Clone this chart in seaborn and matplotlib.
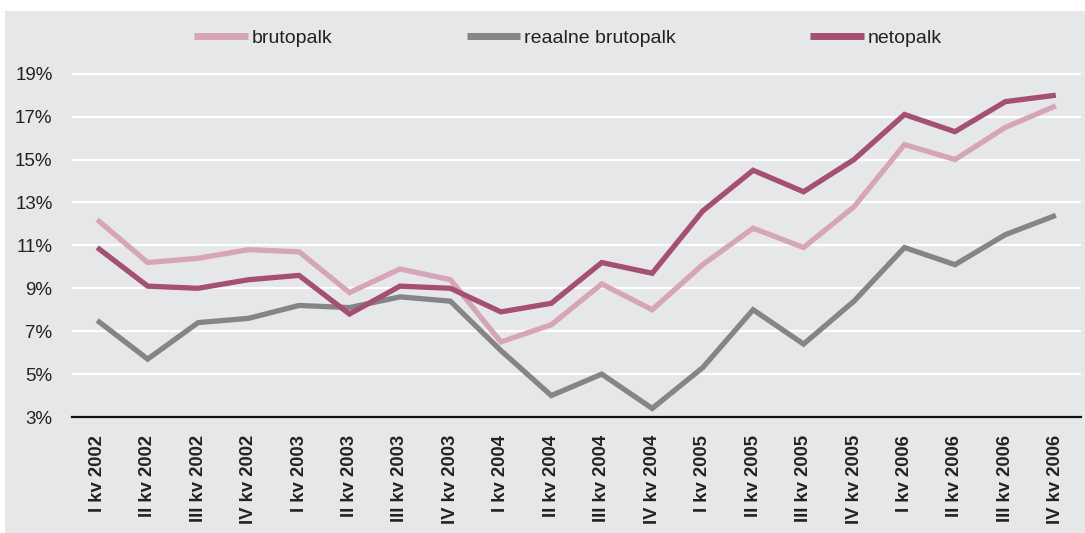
import pandas as pd
import numpy as np
import seaborn as sns
import matplotlib.pyplot as plt
from matplotlib.patches import Rectangle

# Quarter labels
quarters = ['I kv 2002', 'II kv 2002', 'III kv 2002', 'IV kv 2002',
            'I kv 2003', 'II kv 2003', 'III kv 2003', 'IV kv 2003',
            'I kv 2004', 'II kv 2004', 'III kv 2004', 'IV kv 2004',
            'I kv 2005', 'II kv 2005', 'III kv 2005', 'IV kv 2005',
            'I kv 2006', 'II kv 2006', 'III kv 2006', 'IV kv 2006']

# Series values (%)
brutopalk = [12.2, 10.2, 10.4, 10.8, 10.7, 8.8, 9.9, 9.4, 6.5, 7.3,
             9.2, 8.0, 10.1, 11.8, 10.9, 12.8, 15.7, 15.0, 16.5, 17.5]
reaalne = [7.5, 5.7, 7.4, 7.6, 8.2, 8.1, 8.6, 8.4, 6.1, 4.0,
           5.0, 3.4, 5.3, 8.0, 6.4, 8.4, 10.9, 10.1, 11.5, 12.4]
netopalk = [10.9, 9.1, 9.0, 9.4, 9.6, 7.8, 9.1, 9.0, 7.9, 8.3,
            10.2, 9.7, 12.6, 14.5, 13.5, 15.0, 17.1, 16.3, 17.7, 18.0]

series_names = ['brutopalk', 'reaalne brutopalk', 'netopalk']
colors = ['#d6a6b8', '#858587', '#a54f72']

df = pd.DataFrame({'kvartal': quarters, 'brutopalk': brutopalk,
                   'reaalne brutopalk': reaalne, 'netopalk': netopalk})
df['x'] = range(len(df))
long_df = df.melt(id_vars=['kvartal', 'x'], value_vars=series_names,
                  var_name='seeria', value_name='vaartus')

sns.set_style('white')
plt.rcParams['font.family'] = ['Liberation Sans', 'DejaVu Sans']
bg = '#e6e7e9'

fig = plt.figure(figsize=(10.85, 5.33), dpi=100)
fig.patch.set_facecolor('white')
fig.add_artist(Rectangle((5 / 1085, 0), 1, (533 - 11) / 533,
                         transform=fig.transFigure, facecolor=bg,
                         edgecolor='none', zorder=-10))
ax = fig.add_axes([72 / 1085, 0.2176, 0.930, 0.6642])
ax.set_facecolor(bg)

sns.lineplot(data=long_df, x='x', y='vaartus', hue='seeria',
             hue_order=series_names, palette=colors, linewidth=3.8,
             solid_capstyle='butt', solid_joinstyle='miter',
             ax=ax, legend=False)

ax.set_xlim(-0.5, 19.5)
ax.set_ylim(3, 19.5)
ax.set_yticks(range(3, 20, 2))
ax.set_yticklabels([f'{v}%' for v in range(3, 20, 2)], fontsize=13.5,
                   color='#222222')
ax.set_xticks(df['x'])
ax.set_xticklabels(quarters, rotation=90, fontsize=13.3, fontweight='bold',
                   color='#222222')
ax.tick_params(axis='y', length=0, pad=14)
ax.tick_params(axis='x', length=0, pad=13)
ax.grid(axis='y', color='white', linewidth=1.6)
ax.set_axisbelow(True)
for side in ['top', 'right', 'left']:
    ax.spines[side].set_visible(False)
ax.spines['bottom'].set_color('#111111')
ax.spines['bottom'].set_linewidth(1.6)
ax.set_xlabel('')
ax.set_ylabel('')

# Legend
handles = [plt.Line2D([], [], color=c, linewidth=5, solid_capstyle='butt')
           for c in colors]
leg = fig.legend(handles, series_names, loc='center', ncol=3,
                 bbox_to_anchor=(568 / 1085, 1 - 38 / 533), frameon=False,
                 fontsize=14, handlelength=2.75, handletextpad=0.2,
                 columnspacing=6.9, labelcolor='#222222')

fig.savefig('out.png', dpi=100)
